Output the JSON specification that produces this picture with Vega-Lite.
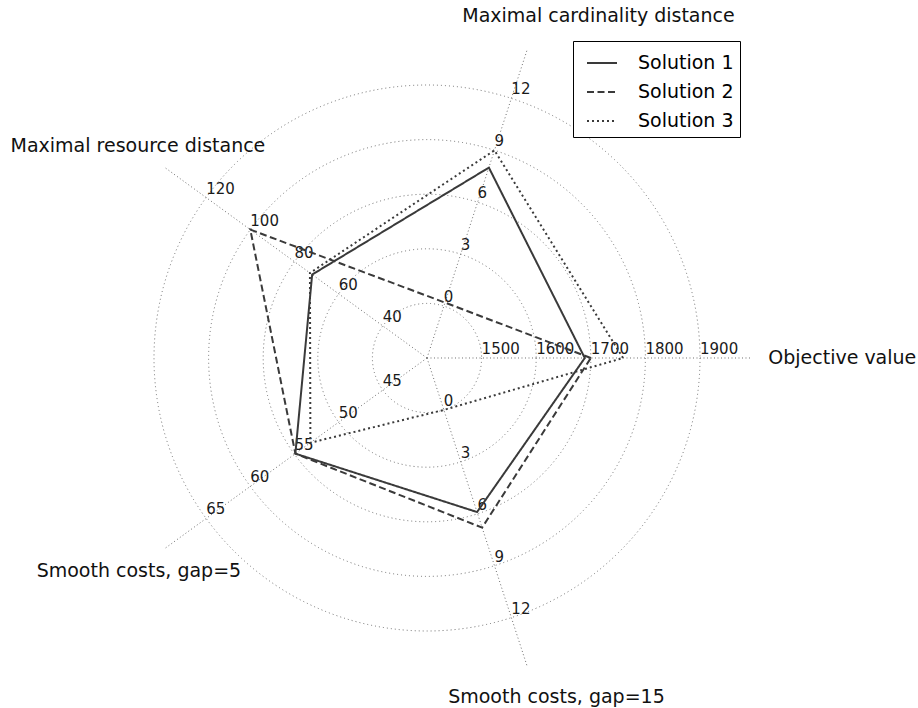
{
  "$schema": "https://vega.github.io/schema/vega-lite/v6.json",
  "width": 918,
  "height": 708,
  "autosize": {"type": "none"},
  "padding": 0,
  "background": "white",
  "config": {"view": {"stroke": null}, "font": "DejaVu Sans"},
  "datasets": {
    "axes": [
      {"axis": "Objective value", "i": 0, "lo": 1400, "step": 100},
      {"axis": "Maximal cardinality distance", "i": 1, "lo": -3, "step": 3},
      {"axis": "Maximal resource distance", "i": 2, "lo": 20, "step": 20},
      {"axis": "Smooth costs, gap=5", "i": 3, "lo": 40, "step": 5},
      {"axis": "Smooth costs, gap=15", "i": 4, "lo": -3, "step": 3}
    ],
    "rings": [{"k": 1}, {"k": 2}, {"k": 3}, {"k": 4}, {"k": 5}],
    "ticks": [
      {"axis": "Objective value", "k": 1, "label": "1500"},
      {"axis": "Objective value", "k": 2, "label": "1600"},
      {"axis": "Objective value", "k": 3, "label": "1700"},
      {"axis": "Objective value", "k": 4, "label": "1800"},
      {"axis": "Objective value", "k": 5, "label": "1900"},
      {"axis": "Maximal cardinality distance", "k": 1, "label": "0"},
      {"axis": "Maximal cardinality distance", "k": 2, "label": "3"},
      {"axis": "Maximal cardinality distance", "k": 3, "label": "6"},
      {"axis": "Maximal cardinality distance", "k": 4, "label": "9"},
      {"axis": "Maximal cardinality distance", "k": 5, "label": "12"},
      {"axis": "Maximal resource distance", "k": 1, "label": "40"},
      {"axis": "Maximal resource distance", "k": 2, "label": "60"},
      {"axis": "Maximal resource distance", "k": 3, "label": "80"},
      {"axis": "Maximal resource distance", "k": 4, "label": "100"},
      {"axis": "Maximal resource distance", "k": 5, "label": "120"},
      {"axis": "Smooth costs, gap=5", "k": 1, "label": "45"},
      {"axis": "Smooth costs, gap=5", "k": 2, "label": "50"},
      {"axis": "Smooth costs, gap=5", "k": 3, "label": "55"},
      {"axis": "Smooth costs, gap=5", "k": 4, "label": "60"},
      {"axis": "Smooth costs, gap=5", "k": 5, "label": "65"},
      {"axis": "Smooth costs, gap=15", "k": 1, "label": "0"},
      {"axis": "Smooth costs, gap=15", "k": 2, "label": "3"},
      {"axis": "Smooth costs, gap=15", "k": 3, "label": "6"},
      {"axis": "Smooth costs, gap=15", "k": 4, "label": "9"},
      {"axis": "Smooth costs, gap=15", "k": 5, "label": "12"}
    ],
    "solutions": [
      {"solution": "Solution 1", "axis": "Objective value", "value": 1689},
      {"solution": "Solution 1", "axis": "Maximal cardinality distance", "value": 8},
      {"solution": "Solution 1", "axis": "Maximal resource distance", "value": 72},
      {"solution": "Solution 1", "axis": "Smooth costs, gap=5", "value": 54.9},
      {"solution": "Solution 1", "axis": "Smooth costs, gap=15", "value": 5.9},
      {"solution": "Solution 2", "axis": "Objective value", "value": 1700},
      {"solution": "Solution 2", "axis": "Maximal cardinality distance", "value": 0.2},
      {"solution": "Solution 2", "axis": "Maximal resource distance", "value": 100},
      {"solution": "Solution 2", "axis": "Smooth costs, gap=5", "value": 54.9},
      {"solution": "Solution 2", "axis": "Smooth costs, gap=15", "value": 6.8},
      {"solution": "Solution 3", "axis": "Objective value", "value": 1759},
      {"solution": "Solution 3", "axis": "Maximal cardinality distance", "value": 9},
      {"solution": "Solution 3", "axis": "Maximal resource distance", "value": 73},
      {"solution": "Solution 3", "axis": "Smooth costs, gap=5", "value": 53.2},
      {"solution": "Solution 3", "axis": "Smooth costs, gap=15", "value": 0}
    ]
  },
  "layer": [
    {
      "data": {"name": "rings"},
      "transform": [{"calculate": "0", "as": "c"}],
      "mark": {"type": "point", "shape": "circle", "filled": false, "stroke": "#6e6e6e", "strokeWidth": 1, "strokeDash": [1, 3], "opacity": 1},
      "encoding": {
        "x": {"field": "c", "type": "quantitative", "scale": {"domain": [-7.8205, 8.9927], "nice": false, "zero": false}, "axis": null},
        "y": {"field": "c", "type": "quantitative", "scale": {"domain": [-6.4103, 6.5568], "nice": false, "zero": false}, "axis": null},
        "size": {"field": "k", "type": "quantitative", "scale": {"type": "pow", "exponent": 2, "domain": [0, 5], "range": [0, 298116], "zero": true}, "legend": null}
      }
    },
    {
      "data": {"name": "axes"},
      "transform": [
        {"calculate": "0", "as": "c"},
        {"calculate": "datum.i*2*PI/5", "as": "a"},
        {"calculate": "5.92*cos(datum.a)", "as": "ex"},
        {"calculate": "5.92*sin(datum.a)", "as": "ey"}
      ],
      "mark": {"type": "rule", "stroke": "#6e6e6e", "strokeWidth": 1, "strokeDash": [1, 2.5]},
      "encoding": {
        "x": {"field": "c", "type": "quantitative", "scale": {"domain": [-7.8205, 8.9927], "nice": false, "zero": false}, "axis": null},
        "y": {"field": "c", "type": "quantitative", "scale": {"domain": [-6.4103, 6.5568], "nice": false, "zero": false}, "axis": null},
        "x2": {"field": "ex"},
        "y2": {"field": "ey"}
      }
    },
    {
      "data": {"name": "ticks"},
      "transform": [
        {"lookup": "axis", "from": {"data": {"name": "axes"}, "key": "axis", "fields": ["i"]}},
        {"calculate": "datum.i*2*PI/5", "as": "a"},
        {"calculate": "datum.k*cos(datum.a)", "as": "px"},
        {"calculate": "datum.k*sin(datum.a)", "as": "py"}
      ],
      "mark": {"type": "text", "align": "left", "baseline": "alphabetic", "dy": -4, "fontSize": 15, "fill": "#1a1a1a"},
      "encoding": {
        "x": {"field": "px", "type": "quantitative", "scale": {"domain": [-7.8205, 8.9927], "nice": false, "zero": false}, "axis": null},
        "y": {"field": "py", "type": "quantitative", "scale": {"domain": [-6.4103, 6.5568], "nice": false, "zero": false}, "axis": null},
        "text": {"field": "label"}
      }
    },
    {
      "data": {"name": "solutions"},
      "transform": [
        {"lookup": "axis", "from": {"data": {"name": "axes"}, "key": "axis", "fields": ["i", "lo", "step"]}},
        {"calculate": "(datum.value - datum.lo)/datum.step", "as": "r"},
        {"calculate": "datum.i*2*PI/5", "as": "a"},
        {"calculate": "datum.r*cos(datum.a)", "as": "px"},
        {"calculate": "datum.r*sin(datum.a)", "as": "py"}
      ],
      "mark": {"type": "line", "interpolate": "linear-closed", "stroke": "#3a3a3a", "strokeWidth": 2},
      "encoding": {
        "x": {"field": "px", "type": "quantitative", "scale": {"domain": [-7.8205, 8.9927], "nice": false, "zero": false}, "axis": null},
        "y": {"field": "py", "type": "quantitative", "scale": {"domain": [-6.4103, 6.5568], "nice": false, "zero": false}, "axis": null},
        "order": {"field": "i", "type": "quantitative"},
        "strokeDash": {
          "field": "solution", "type": "nominal",
          "scale": {"domain": ["Solution 1", "Solution 2", "Solution 3"], "range": [[1, 0], [7, 3.5], [2, 3]]},
          "legend": {
            "title": null, "orient": "none", "legendX": 573, "legendY": 41,
            "symbolType": "stroke", "symbolSize": 900, "symbolStrokeWidth": 2, "symbolStrokeColor": "#3a3a3a",
            "labelFontSize": 19, "labelFont": "DejaVu Sans", "labelColor": "black", "labelOffset": 20,
            "strokeColor": "black", "fillColor": "white", "padding": 6, "symbolOffset": 7, "rowPadding": 3, "cornerRadius": 0
          }
        }
      }
    },
    {
      "data": {"name": "axes"},
      "transform": [{"filter": "datum.i == 0"}, {"calculate": "datum.i*2*PI/5", "as": "a"}, {"calculate": "6.25*cos(datum.a)", "as": "tx"}, {"calculate": "6.25*sin(datum.a)", "as": "ty"}],
      "mark": {"type": "text", "align": "left", "baseline": "alphabetic", "dy": 6, "fontSize": 19, "fill": "#111111"},
      "encoding": {
        "x": {"field": "tx", "type": "quantitative", "scale": {"domain": [-7.8205, 8.9927], "nice": false, "zero": false}, "axis": null},
        "y": {"field": "ty", "type": "quantitative", "scale": {"domain": [-6.4103, 6.5568], "nice": false, "zero": false}, "axis": null},
        "text": {"field": "axis"}
      }
    },
    {
      "data": {"name": "axes"},
      "transform": [{"filter": "datum.i == 1"}, {"calculate": "datum.i*2*PI/5", "as": "a"}, {"calculate": "6.25*cos(datum.a)", "as": "tx"}, {"calculate": "6.25*sin(datum.a)", "as": "ty"}],
      "mark": {"type": "text", "align": "center", "baseline": "alphabetic", "dx": 66, "dy": -11, "fontSize": 19, "fill": "#111111"},
      "encoding": {
        "x": {"field": "tx", "type": "quantitative", "scale": {"domain": [-7.8205, 8.9927], "nice": false, "zero": false}, "axis": null},
        "y": {"field": "ty", "type": "quantitative", "scale": {"domain": [-6.4103, 6.5568], "nice": false, "zero": false}, "axis": null},
        "text": {"field": "axis"}
      }
    },
    {
      "data": {"name": "axes"},
      "transform": [{"filter": "datum.i == 2"}, {"calculate": "datum.i*2*PI/5", "as": "a"}, {"calculate": "6.25*cos(datum.a)", "as": "tx"}, {"calculate": "6.25*sin(datum.a)", "as": "ty"}],
      "mark": {"type": "text", "align": "center", "baseline": "alphabetic", "dx": -13, "dy": -5, "fontSize": 19, "fill": "#111111"},
      "encoding": {
        "x": {"field": "tx", "type": "quantitative", "scale": {"domain": [-7.8205, 8.9927], "nice": false, "zero": false}, "axis": null},
        "y": {"field": "ty", "type": "quantitative", "scale": {"domain": [-6.4103, 6.5568], "nice": false, "zero": false}, "axis": null},
        "text": {"field": "axis"}
      }
    },
    {
      "data": {"name": "axes"},
      "transform": [{"filter": "datum.i == 3"}, {"calculate": "datum.i*2*PI/5", "as": "a"}, {"calculate": "6.25*cos(datum.a)", "as": "tx"}, {"calculate": "6.25*sin(datum.a)", "as": "ty"}],
      "mark": {"type": "text", "align": "center", "baseline": "alphabetic", "dx": -12, "dy": 18, "fontSize": 19, "fill": "#111111"},
      "encoding": {
        "x": {"field": "tx", "type": "quantitative", "scale": {"domain": [-7.8205, 8.9927], "nice": false, "zero": false}, "axis": null},
        "y": {"field": "ty", "type": "quantitative", "scale": {"domain": [-6.4103, 6.5568], "nice": false, "zero": false}, "axis": null},
        "text": {"field": "axis"}
      }
    },
    {
      "data": {"name": "axes"},
      "transform": [{"filter": "datum.i == 4"}, {"calculate": "datum.i*2*PI/5", "as": "a"}, {"calculate": "6.25*cos(datum.a)", "as": "tx"}, {"calculate": "6.25*sin(datum.a)", "as": "ty"}],
      "mark": {"type": "text", "align": "center", "baseline": "alphabetic", "dx": 24, "dy": 20, "fontSize": 19, "fill": "#111111"},
      "encoding": {
        "x": {"field": "tx", "type": "quantitative", "scale": {"domain": [-7.8205, 8.9927], "nice": false, "zero": false}, "axis": null},
        "y": {"field": "ty", "type": "quantitative", "scale": {"domain": [-6.4103, 6.5568], "nice": false, "zero": false}, "axis": null},
        "text": {"field": "axis"}
      }
    }
  ]
}
